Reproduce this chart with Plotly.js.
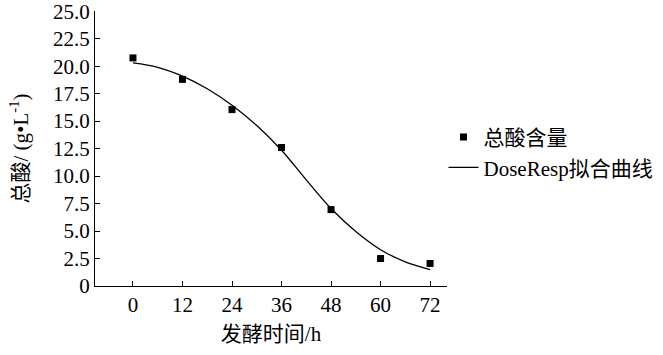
<!DOCTYPE html>
<html>
<head>
<meta charset="utf-8">
<script src="https://cdn.plot.ly/plotly-3.0.1.min.js"></script>
<style>html,body{margin:0;padding:0;background:#fff;}#chart{width:663px;height:355px;}</style>
</head>
<body>
<div id="chart"></div>
<script>
// measured data
var timeH = [0, 12, 24, 36, 48, 60, 72];
var totalAcid = [20.75, 18.8, 16.05, 12.6, 6.95, 2.5, 2.05];
// fitted DoseResp curve
var fitX = [0, 6, 12, 18, 24, 30, 36, 42, 48, 54, 60, 66, 72];
var fitY = [20.3, 19.9, 19.1, 17.95, 16.45, 14.6, 12.35, 9.65, 7.05, 4.95, 3.3, 2.2, 1.5];
// tick labels
var xTickVals = [0, 12, 24, 36, 48, 60, 72];
var xTickText = ['0', '12', '24', '36', '48', '60', '72'];
var yTickVals = [0, 2.5, 5, 7.5, 10, 12.5, 15, 17.5, 20, 22.5, 25];
var yTickText = ['0', '2.5', '5.0', '7.5', '10.0', '12.5', '15.0', '17.5', '20.0', '22.5', '25.0'];
var seriesNames = ['总酸含量', 'DoseResp拟合曲线'];

var FONT = 'Liberation Serif, Noto Sans CJK SC, serif';

var traces = [
  {
    x: timeH, y: totalAcid, name: seriesNames[0], type: 'scatter', mode: 'markers',
    marker: {symbol: 'square', size: 7, color: '#000'}
  },
  {
    x: fitX, y: fitY, name: seriesNames[1], type: 'scatter', mode: 'lines',
    line: {color: '#000', width: 1.3, shape: 'spline'}
  }
];

var layout = {
  width: 663, height: 355,
  margin: {l: 95, r: 216, t: 11, b: 69, autoexpand: false},
  paper_bgcolor: '#fff', plot_bgcolor: '#fff',
  font: {family: FONT, size: 21, color: '#000'},
  showlegend: true,
  legend: {x: 0.99, xanchor: 'left', y: 0.615, yanchor: 'top', font: {family: FONT, size: 21, color: '#000'},
           bgcolor: 'rgba(0,0,0,0)', tracegroupgap: 0},
  xaxis: {
    range: [-9.2, 76.1], tickmode: 'array', tickvals: xTickVals, ticktext: xTickText,
    showgrid: false, zeroline: false, showline: true, linecolor: '#000', linewidth: 1,
    ticks: 'inside', ticklen: 5, tickcolor: '#000', tickwidth: 1,
    tickfont: {family: FONT, size: 21, color: '#000'}, ticklabeloverflow: 'allow',
    title: {text: '发酵时间/h', font: {family: FONT, size: 21, color: '#000'}, standoff: 10},
    automargin: false
  },
  yaxis: {
    range: [0, 25.02], tickmode: 'array', tickvals: yTickVals, ticktext: yTickText,
    showgrid: false, zeroline: false, showline: true, linecolor: '#000', linewidth: 1,
    ticks: 'inside', ticklen: 5, tickcolor: '#000', tickwidth: 1,
    tickfont: {family: FONT, size: 21, color: '#000'}, ticklabeloverflow: 'allow',
    title: {text: '总酸/ (g•L<sup>-1</sup>)', font: {family: FONT, size: 21, color: '#000'}, standoff: 18},
    automargin: false
  }
};

Plotly.newPlot('chart', traces, layout, {displayModeBar: false, staticPlot: true});
</script>
</body>
</html>
